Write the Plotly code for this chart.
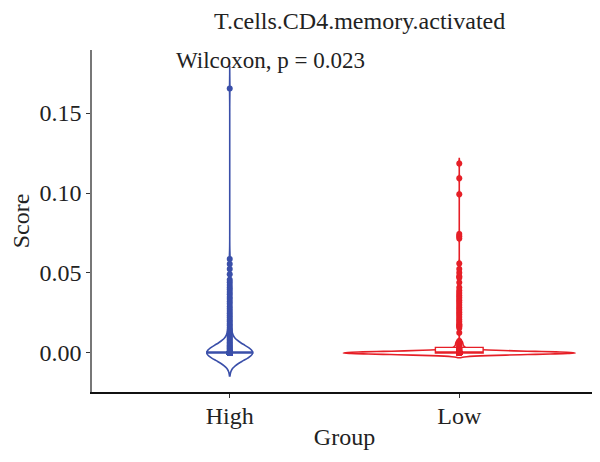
import plotly.graph_objects as go

# ---- data ----
groups = ["High", "Low"]

high_nonzero = [0.1654, 0.0587, 0.0556, 0.0525, 0.0492, 0.0458, 0.0442, 0.0425,
                0.0410, 0.0396, 0.0381, 0.0367, 0.0350, 0.0338, 0.0322, 0.0307,
                0.0291, 0.0276, 0.0263, 0.0248, 0.0235, 0.0221, 0.0207, 0.0196,
                0.0183, 0.0171, 0.0158, 0.0147, 0.0135, 0.0124, 0.0113, 0.0102,
                0.0093, 0.0084, 0.0075, 0.0066, 0.0058, 0.0049, 0.0041, 0.0033,
                0.0026, 0.0019, 0.0012, 0.0006]
high_zero_count = 130

low_nonzero = [0.1185, 0.1092, 0.0992, 0.0744, 0.0730, 0.0716, 0.0560, 0.0525,
               0.0502, 0.0480, 0.0470, 0.0440, 0.0410, 0.0390, 0.0375, 0.0360,
               0.0345, 0.0330, 0.0315, 0.0300, 0.0285, 0.0270, 0.0255, 0.0240,
               0.0225, 0.0210, 0.0195, 0.0180, 0.0168, 0.0156, 0.0127, 0.0075,
               0.0068, 0.0060, 0.0052, 0.0045, 0.0038, 0.0032, 0.0028, 0.0025,
               0.0022, 0.0019, 0.0016, 0.0013, 0.0010, 0.0008, 0.0006, 0.0004]
low_zero_count = 100

high_scores = high_nonzero + [0.0] * high_zero_count
low_scores = low_nonzero + [0.0] * low_zero_count

y_ticks = [0.00, 0.05, 0.10, 0.15]
y_tick_labels = ["0.00", "0.05", "0.10", "0.15"]

title_text = "T.cells.CD4.memory.activated"
test_label = "Wilcoxon, p = 0.023"

# ---- styles ----
BLUE = "#3A4FA9"
RED = "#E61F27"
FONT = "Liberation Serif"
TXT = "#222222"

ML, MR, MT, MB = 84, 11, 42, 78
PW = 600 - ML - MR

fig = go.Figure()

fig.add_trace(go.Violin(
    x=[groups[0]] * len(high_scores), y=high_scores,
    name=groups[0], width=0.2, scalemode="width",
    bandwidth=0.0048, spanmode="manual", span=[-0.0144, 0.179],
    line=dict(color=BLUE, width=1.6), fillcolor="rgba(255,255,255,0)",
    points="all", pointpos=0, jitter=0,
    marker=dict(color=BLUE, size=6),
    box=dict(visible=True, width=1.0, fillcolor="white",
             line=dict(color=BLUE, width=1.4)),
    meanline=dict(visible=False), hoverinfo="skip", showlegend=False,
))

fig.add_trace(go.Violin(
    x=[groups[1]] * len(low_scores), y=low_scores,
    name=groups[1], width=1.01, scalemode="width",
    bandwidth=0.001, spanmode="manual", span=[-0.003, 0.1215],
    line=dict(color=RED, width=1.6), fillcolor="rgba(255,255,255,0)",
    points="all", pointpos=0, jitter=0,
    marker=dict(color=RED, size=6),
    box=dict(visible=True, width=0.206, fillcolor="white",
             line=dict(color=RED, width=1.4)),
    meanline=dict(visible=False), hoverinfo="skip", showlegend=False,
))

fig.update_layout(
    width=600, height=462,
    margin=dict(l=ML, r=MR, t=MT, b=MB, autoexpand=False),
    paper_bgcolor="white", plot_bgcolor="white",
    violinmode="overlay",
    font=dict(family=FONT, size=24, color=TXT),
    xaxis=dict(
        type="category", categoryorder="array", categoryarray=groups,
        range=[-0.6, 1.6], automargin=False,
        showline=True, linecolor="#111111", linewidth=2,
        ticks="outside", ticklen=4, tickcolor="#333333",
        showgrid=False, zeroline=False,
        tickfont=dict(family=FONT, size=24, color=TXT),
        ticklabelstandoff=-3,
        title=dict(text="Group", font=dict(family=FONT, size=24, color=TXT),
                   standoff=0),
    ),
    yaxis=dict(
        range=[-0.0244, 0.1894], automargin=False,
        tickvals=y_ticks, ticktext=y_tick_labels,
        showline=True, linecolor="#777777", linewidth=1.5,
        ticks="outside", ticklen=4, tickcolor="#333333",
        showgrid=False, zeroline=False,
        tickfont=dict(family=FONT, size=24, color=TXT),
        title=dict(text="Score", font=dict(family=FONT, size=24, color=TXT),
                   standoff=4),
    ),
    annotations=[
        dict(text=title_text, xref="paper", yref="paper",
             x=(351 - ML) / PW, y=1, yshift=MT + 2, xanchor="center", yanchor="top",
             showarrow=False, font=dict(family=FONT, size=24, color=TXT)),
        dict(text=test_label, xref="paper", yref="y",
             x=(262 - ML) / PW, y=0.1831, xanchor="center", yanchor="middle",
             showarrow=False, font=dict(family=FONT, size=23, color=TXT)),
    ],
)

fig.write_html("out.html")
